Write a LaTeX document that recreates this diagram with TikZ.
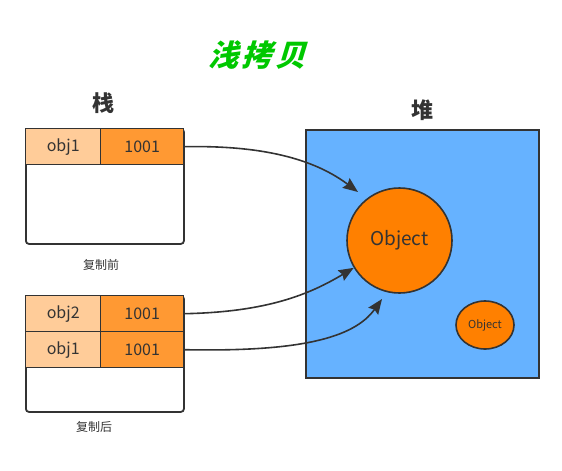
\documentclass[tikz,border=0pt]{standalone}
\usepackage{fontspec}
\setmainfont{Noto Sans CJK SC}
\newfontfamily\titlefont[FakeSlant=0.3]{Noto Sans CJK SC}
\usetikzlibrary{arrows.meta,shapes.geometric}
\definecolor{dk}{HTML}{333333}
\definecolor{lorange}{HTML}{FFCC99}
\definecolor{morange}{HTML}{FF9933}
\definecolor{objorange}{HTML}{FF8000}
\definecolor{heapblue}{HTML}{66B2FF}
\definecolor{titlegreen}{HTML}{00C800}
\begin{document}
\begin{tikzpicture}[x=1pt,y=-1pt,
  stackbox/.style={draw=dk, line width=1.8pt, fill=white, rounded corners=3pt, minimum width=158pt, inner sep=0pt, anchor=north west},
  namecell/.style={draw=dk, line width=1.4pt, fill=lorange, minimum width=75pt, minimum height=36pt, inner sep=0pt, anchor=north west, text=dk, font=\fontsize{16}{16}\selectfont},
  valcell/.style={draw=dk, line width=1.4pt, fill=morange, minimum width=83pt, minimum height=36pt, inner sep=0pt, anchor=north west, text=dk, font=\fontsize{16}{16}\selectfont},
  heading/.style={text=dk, font=\fontsize{22}{22}\selectfont\bfseries},
  caption/.style={text=dk, font=\fontsize{12}{12}\selectfont},
  arr/.style={draw=dk, line width=1.6pt, -{Stealth[length=15pt,width=12pt,inset=2pt]}}
]
\useasboundingbox (0,0) rectangle (562,471);

% title
\node[text=titlegreen, font=\fontsize{30}{30}\selectfont\titlefont\bfseries] (title) at (257,55) {浅\hspace{4pt}拷\hspace{4pt}贝};

% headings
\node[heading] (stackhead) at (103,103) {栈};
\node[heading] (heaphead) at (422,110) {堆};

% stack before copy
\node[stackbox, minimum height=115pt] (s1) at (25,128) {};
\node[namecell] (a1) at (25,128) {obj1};
\node[valcell] (b1) at (100,128) {1001};
\node[caption] (cap1) at (101,265) {复制前};

% stack after copy
\node[stackbox, minimum height=116pt] (s2) at (25,295) {};
\node[namecell] (a2) at (25,295) {obj2};
\node[valcell] (b2) at (100,295) {1001};
\node[namecell] (a3) at (25,331) {obj1};
\node[valcell] (b3) at (100,331) {1001};
\node[caption] (cap2) at (94,427) {复制后};

% heap
\node[draw=dk, line width=1.8pt, fill=heapblue, minimum width=233pt, minimum height=248pt, inner sep=0pt, anchor=north west] (heap) at (305,129) {};
\node[circle, draw=dk, line width=1.6pt, fill=objorange, minimum size=105pt, inner sep=0pt, text=dk, font=\fontsize{19}{19}\selectfont] (obj) at (399.5,240.5) {Object};
\node[ellipse, draw=dk, line width=1.6pt, fill=objorange, minimum width=58pt, minimum height=48pt, inner sep=0pt, text=dk, font=\fontsize{11}{11}\selectfont] (obj2) at (485,325) {Object};

% arrow ends
\coordinate (t1) at (358,192);
\coordinate (t3) at (382,299);

% arrows
\draw[arr] (b1.east) .. controls (270,145) and (318,162) .. (t1);
\draw[arr] (b2.east) .. controls (268,312) and (310,294) .. (obj);
\draw[arr] (b3.east) .. controls (300,352) and (354,338) .. (t3);
\end{tikzpicture}
\end{document}
